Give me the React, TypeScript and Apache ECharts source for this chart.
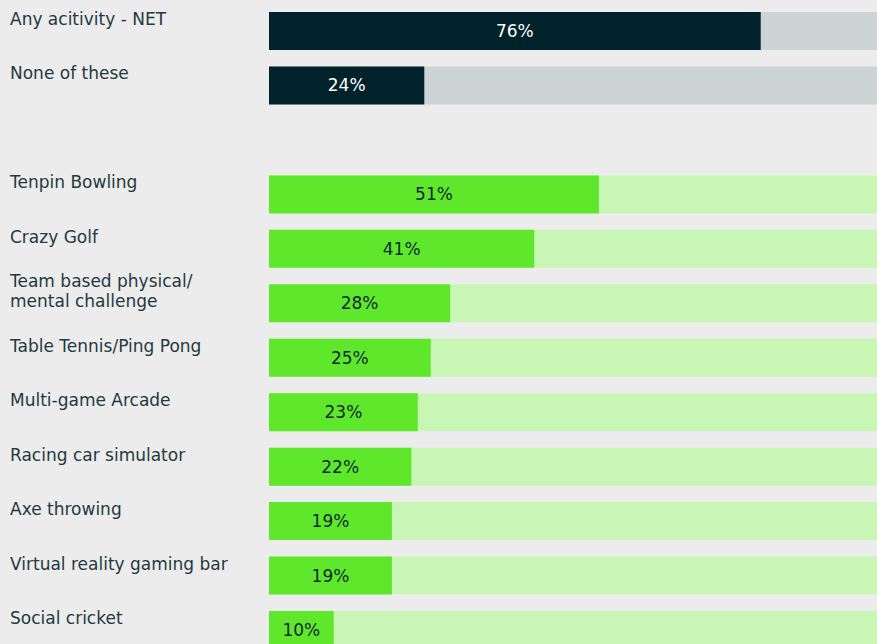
import React, { useEffect, useRef } from "react";
import * as echarts from "echarts";

const categories = [
  "Any acitivity - NET",
  "None of these",
  "",
  "Tenpin Bowling",
  "Crazy Golf",
  "Team based physical/\nmental challenge",
  "Table Tennis/Ping Pong",
  "Multi-game Arcade",
  "Racing car simulator",
  "Axe throwing",
  "Virtual reality gaming bar",
  "Social cricket",
];
const values: (number | null)[] = [76, 24, null, 51, 41, 28, 25, 23, 22, 19, 19, 10];
const isNet = [true, true, false, false, false, false, false, false, false, false, false, false];

const DARK = "#00232b";
const GREY = "#ccd4d6";
const GREEN = "#5fe82b";
const LIGHT_GREEN = "#c8f7b5";
const TEXT = "#24393f";
const FONT = "DejaVu Sans";

export default function App() {
  const ref = useRef<HTMLDivElement>(null);
  useEffect(() => {
    if (!ref.current) return;
    const chart = echarts.init(ref.current, undefined, { renderer: "svg" });
    const bgData = values.map((v, i) =>
      v == null ? "-" : { value: 100, itemStyle: { color: isNet[i] ? GREY : LIGHT_GREEN } }
    );
    const fgData = values.map((v, i) =>
      v == null
        ? "-"
        : {
            value: v,
            itemStyle: { color: isNet[i] ? DARK : GREEN },
            label: { color: isNet[i] ? "#ffffff" : "#0d2a30" },
          }
    );
    chart.setOption({
      animation: false,
      backgroundColor: "#ececec",
      grid: { left: 269, top: 3.8, width: 647, height: 653.4, containLabel: false },
      xAxis: { type: "value", min: 0, max: 100, show: false },
      yAxis: {
        type: "category",
        data: categories,
        inverse: true,
        axisLine: { show: false },
        axisTick: { show: false },
        splitLine: { show: false },
        axisLabel: { show: false },
      },
      series: [
        {
          type: "bar",
          data: bgData,
          barWidth: 38,
          barGap: "-100%",
          silent: true,
          z: 1,
          label: {
            show: true,
            position: [-259, 7],
            align: "left",
            verticalAlign: "middle",
            formatter: (p: any) => p.name,
            fontFamily: FONT,
            fontSize: 17,
            lineHeight: 20,
            color: TEXT,
          },
        },
        {
          type: "bar",
          data: fgData,
          barWidth: 38,
          z: 2,
          label: {
            show: true,
            position: "inside",
            formatter: "{c}%",
            fontFamily: FONT,
            fontSize: 17,
          },
        },
      ],
    });
    return () => chart.dispose();
  }, []);
  return (
    <div style={{ position: "absolute", left: 0, top: 0, width: 877, height: 644, overflow: "hidden", background: "#ececec" }}>
      <div ref={ref} style={{ width: 916, height: 670 }} />
    </div>
  );
}
